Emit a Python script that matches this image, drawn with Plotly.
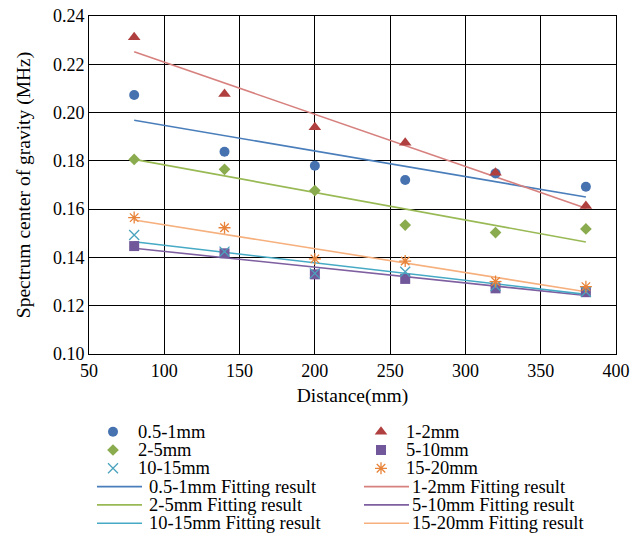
import plotly.graph_objects as go

# ---------------- data ----------------
distance = [80, 140, 200, 260, 320, 380]
fit_x = [80, 380]

labels = ["0.5-1mm", "1-2mm", "2-5mm", "5-10mm", "10-15mm", "15-20mm"]
s_05_1 = [0.2073, 0.1838, 0.1780, 0.1721, 0.1748, 0.1693]
s_1_2 = [0.2312, 0.2077, 0.1939, 0.1875, 0.1751, 0.1613]
s_2_5 = [0.1806, 0.1765, 0.1677, 0.1534, 0.1503, 0.1518]
s_5_10 = [0.1447, 0.1417, 0.1330, 0.1311, 0.1272, 0.1256]
s_10_15 = [0.1493, 0.1424, 0.1334, 0.1341, 0.1282, 0.1258]
s_15_20 = [0.1565, 0.1523, 0.1394, 0.1385, 0.1300, 0.1279]
series = [s_05_1, s_1_2, s_2_5, s_5_10, s_10_15, s_15_20]

fit_05_1 = [0.1968, 0.1650]
fit_1_2 = [0.2252, 0.1604]
fit_2_5 = [0.1806, 0.1464]
fit_5_10 = [0.1438, 0.1242]
fit_10_15 = [0.1465, 0.1247]
fit_15_20 = [0.1555, 0.1258]
fits = [fit_05_1, fit_1_2, fit_2_5, fit_5_10, fit_10_15, fit_15_20]
fit_suffix = " Fitting result"

x_ticks = [50, 100, 150, 200, 250, 300, 350, 400]
y_ticks = [0.10, 0.12, 0.14, 0.16, 0.18, 0.20, 0.22, 0.24]

# ---------------- style ----------------
marker_colors = ["#4672B0", "#B0403F", "#8AAB4E", "#71589A", "#4AA3BD", "#E8843A"]
line_colors = ["#4A7EBB", "#D7817F", "#98B954", "#7E5FA0", "#46AAC5", "#F6B07E"]
symbols = ["circle", "triangle-up", "diamond", "square", "x-thin-open", "asterisk-open"]
sizes = [10, 11, 9, 10, 10, 10]
FONT = "Liberation Serif, Times New Roman, serif"
FS = 18
FS_TITLE = 19.5
FS_LEG = 18.5

W, H = 632, 536
ML, MR, MT, MB = 89, 16, 16, 0
plot_h = H - MT - MB
plot_bottom_px = 354          # bottom of the main plot area
legend_top_px = 414
row0_px, row_step = 431.7, 18.3

def marker_style(i, size=None):
    mk = dict(symbol=symbols[i], size=size or sizes[i], color=marker_colors[i])
    if symbols[i].endswith("open"):
        mk["line"] = dict(color=marker_colors[i], width=1.3)
    else:
        mk["line"] = dict(width=0)
    return mk

fig = go.Figure()

# fitted lines first (under markers)
for i in range(6):
    fig.add_trace(go.Scatter(x=fit_x, y=fits[i], mode="lines",
                             line=dict(color=line_colors[i], width=1.6),
                             showlegend=False, hoverinfo="skip"))
for i in range(6):
    fig.add_trace(go.Scatter(x=distance, y=series[i], mode="markers",
                             marker=marker_style(i), name=labels[i], showlegend=False))

# ---------------- custom legend (on a hidden axis pair in pixel-like units) ----------------
mk_col_x = [113, 381]        # marker centre per column
mk_text_x = [137, 405]
ln_col_x = [(97, 142), (364, 409)]
ln_text_x = [148, 411]

annotations = []
for i in range(6):
    col, row = i % 2, i // 2
    fig.add_trace(go.Scatter(x=[mk_col_x[col]], y=[row], mode="markers",
                             marker=marker_style(i), xaxis="x2", yaxis="y2",
                             showlegend=False, hoverinfo="skip"))
    annotations.append(dict(x=mk_text_x[col], y=row, xref="x2", yref="y2", text=labels[i],
                            showarrow=False, xanchor="left", yanchor="middle", borderpad=0,
                            font=dict(family=FONT, size=FS_LEG, color="black")))
for i in range(6):
    col, row = i % 2, 3 + i // 2
    fig.add_trace(go.Scatter(x=list(ln_col_x[col]), y=[row, row], mode="lines",
                             line=dict(color=line_colors[i], width=1.6), xaxis="x2", yaxis="y2",
                             showlegend=False, hoverinfo="skip"))
    annotations.append(dict(x=ln_text_x[col], y=row, xref="x2", yref="y2",
                            text=labels[i] + fit_suffix,
                            showarrow=False, xanchor="left", yanchor="middle", borderpad=0,
                            font=dict(family=FONT, size=FS_LEG, color="black")))

axis_common = dict(showline=True, linecolor="black", linewidth=1, mirror=True,
                   showgrid=True, gridcolor="black", gridwidth=1, zeroline=False,
                   ticks="", tickfont=dict(family=FONT, size=FS, color="black"))

main_dom_bottom = (H - MB - plot_bottom_px) / plot_h
leg_dom_top = (H - MB - legend_top_px) / plot_h
k_bottom = (H - MB - row0_px) / row_step
k_top = (legend_top_px - row0_px) / row_step

fig.update_layout(
    width=W, height=H,
    margin=dict(l=ML, r=MR, t=MT, b=MB, autoexpand=False),
    paper_bgcolor="white", plot_bgcolor="white",
    font=dict(family=FONT, size=FS, color="black"),
    showlegend=False,
    xaxis=dict(range=[50, 400], tickvals=x_ticks, ticktext=[str(v) for v in x_ticks],
               title=dict(text="Distance(mm)", font=dict(family=FONT, size=FS_TITLE, color="black"), standoff=8),
               anchor="y", **axis_common),
    yaxis=dict(range=[0.10, 0.24], tickvals=y_ticks, ticktext=["%.2f" % v for v in y_ticks],
               domain=[main_dom_bottom, 1], anchor="x",
               title=dict(text="Spectrum center of gravity (MHz)", font=dict(family=FONT, size=FS_TITLE, color="black"), standoff=17),
               **axis_common),
    xaxis2=dict(range=[ML, W - MR], domain=[0, 1], anchor="y2", visible=False, fixedrange=True),
    yaxis2=dict(range=[k_bottom, k_top], domain=[0, leg_dom_top], anchor="x2", visible=False, fixedrange=True),
    annotations=annotations,
)

fig.write_html("out.html")
